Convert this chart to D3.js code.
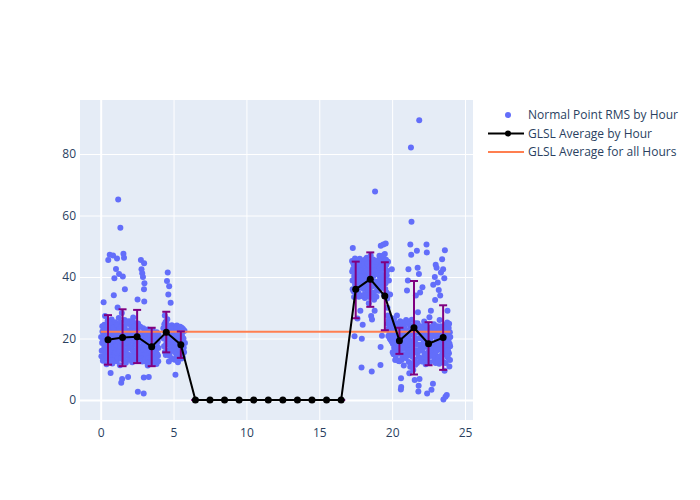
<!DOCTYPE html>
<html><head><meta charset="utf-8">
<script src="https://cdn.jsdelivr.net/npm/d3@7"></script>
<style>body{margin:0;background:#fff;} text{font-family:"Open Sans","Noto Sans",sans-serif;}</style>
</head><body><svg id="c" width="700" height="500"></svg>
<script>
// Hourly averages
const hours = [0.5,1.5,2.5,3.5,4.5,5.5,6.5,7.5,8.5,9.5,10.5,11.5,12.5,13.5,14.5,15.5,16.5,17.5,18.5,19.5,20.5,21.5,22.5,23.5];
const avgRms = [19.6,20.3,20.6,17.3,22.0,18.0,0,0,0,0,0,0,0,0,0,0,0,36.0,39.3,33.8,19.3,23.5,18.3,20.3];
const errLow = [11.5,11.0,12.0,11.0,15.5,13.7,0,0,0,0,0,0,0,0,0,0,0,26.6,30.3,22.7,15.0,8.3,11.3,9.8];
const errHigh = [27.6,29.5,29.3,23.5,28.7,22.3,0,0,0,0,0,0,0,0,0,0,0,45.0,48.0,44.8,23.5,38.7,25.3,30.8];
const overallAvg = 22.2;
const xTicks = [0,5,10,15,20,25];
const yTicks = [0,20,40,60,80];
const legendLabels = ["Normal Point RMS by Hour","GLSL Average by Hour","GLSL Average for all Hours"];
// Normal point RMS samples [hour, rms]
const pts = [
[0.05,14.2],[0.1,18.5],[0.12,22.3],[0.15,12.8],[0.2,31.8],[0.22,16.4],[0.25,24.5],[0.28,20.1],[0.3,27.3],[0.33,13.5],[0.35,19.2],[0.38,23.6],[0.4,11.6],[0.42,17.3],[0.45,21.4],[0.48,25.8],[0.5,15.1],[0.52,45.5],[0.55,19.9],[0.58,12.4],[0.6,23.1],[0.62,47.2],[0.65,16.8],[0.68,8.8],[0.7,21.7],[0.72,14.3],[0.75,26.2],[0.78,18.1],[0.8,11.9],[0.82,24.0],[0.85,47.0],[0.86,20.6],[0.88,15.7],[0.9,34.1],[0.92,22.8],[0.94,39.6],[0.95,13.2],[0.97,17.9],[0.99,25.3],
[1.02,19.4],[1.05,42.6],[1.07,23.8],[1.1,12.6],[1.12,46.0],[1.14,16.5],[1.16,30.1],[1.18,21.2],[1.2,65.2],[1.22,14.1],[1.24,26.7],[1.26,41.0],[1.28,18.3],[1.3,22.9],[1.32,11.3],[1.35,56.0],[1.37,25.1],[1.39,15.4],[1.41,5.6],[1.43,20.2],[1.45,28.3],[1.47,6.8],[1.5,17.1],[1.52,40.2],[1.54,23.4],[1.56,47.6],[1.58,13.0],[1.6,46.3],[1.62,19.7],[1.64,26.0],[1.66,36.0],[1.68,16.0],[1.7,21.6],[1.73,12.1],[1.76,24.7],[1.8,18.8],[1.84,14.9],[1.88,7.5],[1.9,22.2],[1.94,17.6],[1.97,25.6],
[2.02,20.8],[2.05,13.9],[2.08,24.2],[2.1,17.0],[2.13,23.6],[2.16,12.3],[2.2,19.6],[2.23,26.8],[2.26,15.3],[2.3,21.9],[2.33,18.2],[2.36,13.6],[2.4,25.0],[2.43,20.4],[2.46,16.4],[2.5,22.6],[2.53,32.7],[2.55,2.7],[2.57,14.6],[2.6,19.1],[2.63,24.1],[2.66,17.4],[2.7,12.9],[2.73,21.3],[2.76,45.5],[2.78,16.0],[2.8,42.5],[2.82,19.8],[2.85,41.2],[2.87,14.2],[2.9,40.0],[2.92,23.3],[2.95,2.1],[2.97,36.0],[2.98,44.5],[3.0,38.0],[2.99,32.0],[2.96,7.3],[2.94,18.6],
[3.02,15.8],[3.05,20.6],[3.08,12.5],[3.1,17.9],[3.13,22.4],[3.16,14.1],[3.2,19.0],[3.23,11.2],[3.26,16.7],[3.3,7.5],[3.33,21.1],[3.36,13.8],[3.4,18.4],[3.43,15.2],[3.46,20.0],[3.5,12.0],[3.53,17.2],[3.56,22.8],[3.6,14.7],[3.63,19.5],[3.66,16.1],[3.7,13.3],[3.73,18.9],[3.76,21.6],[3.8,15.5],[3.83,11.7],[3.86,17.6],[3.9,20.3],[3.93,14.4],[3.96,16.9],
[4.3,23.3],[4.35,17.5],[4.4,27.5],[4.42,20.2],[4.45,25.4],[4.47,14.6],[4.5,22.0],[4.52,18.7],[4.55,38.7],[4.57,26.3],[4.6,41.5],[4.62,16.2],[4.64,34.3],[4.66,21.3],[4.68,12.5],[4.7,37.0],[4.72,24.0],[4.74,19.3],[4.76,15.6],[4.8,31.6],[4.82,22.7],[4.85,17.8],[4.88,24.3],[4.9,13.4],[4.93,20.6],[4.96,23.6],
[5.0,22.1],[5.03,16.4],[5.06,19.8],[5.08,13.1],[5.1,23.9],[5.13,8.2],[5.15,18.2],[5.18,21.5],[5.2,14.8],[5.23,24.2],[5.26,17.3],[5.3,12.3],[5.33,20.7],[5.36,15.9],[5.4,23.0],[5.43,18.9],[5.46,13.6],[5.5,21.9],[5.53,16.8],[5.56,23.5],[5.6,19.4],[5.63,14.0],[5.66,22.4],[5.7,17.0],
[17.25,45.2],[17.28,38.9],[17.3,49.4],[17.32,42.6],[17.35,35.4],[17.37,44.1],[17.4,40.3],[17.42,20.7],[17.45,46.0],[17.48,37.2],[17.5,43.0],[17.52,34.5],[17.55,41.4],[17.58,45.5],[17.6,38.0],[17.62,26.5],[17.65,42.1],[17.68,36.3],[17.7,44.7],[17.72,33.6],[17.75,39.5],[17.78,45.9],[17.8,41.0],[17.82,29.0],[17.85,36.9],[17.87,43.6],[17.9,10.6],[17.92,19.9],[17.94,38.4],[17.96,34.0],[17.98,24.5],
[18.02,42.4],[18.05,36.1],[18.08,45.3],[18.1,39.4],[18.13,33.2],[18.16,44.0],[18.2,40.7],[18.23,37.5],[18.26,46.3],[18.3,35.0],[18.33,42.9],[18.36,38.6],[18.4,31.5],[18.43,44.8],[18.46,40.1],[18.5,36.6],[18.53,47.0],[18.56,27.3],[18.6,9.3],[18.62,26.2],[18.65,41.6],[18.68,34.1],[18.7,45.7],[18.73,38.0],[18.76,32.6],[18.8,29.0],[18.83,67.8],[18.86,43.3],[18.9,37.1],[18.93,40.9],[18.96,35.6],
[19.02,44.2],[19.05,38.4],[19.08,41.7],[19.1,35.5],[19.13,46.9],[19.16,40.2],[19.2,11.4],[19.21,17.2],[19.22,50.2],[19.25,43.6],[19.28,37.0],[19.3,20.9],[19.33,45.4],[19.36,39.3],[19.4,50.6],[19.43,34.2],[19.46,42.8],[19.5,47.5],[19.53,36.1],[19.56,50.9],[19.6,44.0],[19.63,40.6],[19.66,33.0],[19.7,27.5],[19.72,45.0],[19.75,23.1],[19.78,38.9],[19.8,25.6],[19.83,21.8],[19.86,34.3],[19.9,19.6],[19.93,26.7],[19.96,22.4],[19.98,42.5],
[20.02,24.8],[20.05,18.3],[20.08,21.7],[20.1,14.9],[20.13,26.4],[20.16,19.6],[20.2,23.2],[20.23,16.1],[20.26,13.4],[20.3,22.0],[20.33,27.5],[20.36,17.7],[20.4,20.5],[20.43,15.2],[20.46,24.1],[20.5,12.6],[20.53,19.0],[20.56,22.7],[20.6,3.4],[20.61,7.1],[20.62,4.2],[20.63,16.6],[20.66,25.3],[20.7,14.0],[20.73,21.1],[20.76,18.0],[20.8,11.2],[20.83,23.7],[20.86,16.9],[20.9,20.3],[20.93,13.7],[20.96,26.0],[20.98,17.4],
[21.02,35.6],[21.04,22.3],[21.06,16.3],[21.08,38.9],[21.1,19.8],[21.12,42.5],[21.14,12.4],[21.16,24.6],[21.18,8.7],[21.2,17.7],[21.22,21.4],[21.25,50.6],[21.27,14.6],[21.29,82.1],[21.31,47.2],[21.33,58.0],[21.35,26.1],[21.37,19.2],[21.4,11.8],[21.43,23.0],[21.46,16.0],[21.5,20.7],[21.53,13.1],[21.55,6.5],[21.57,25.0],[21.6,18.4],[21.63,34.0],[21.66,22.1],[21.7,48.5],[21.72,15.3],[21.75,43.0],[21.77,28.5],[21.8,2.8],[21.82,4.6],[21.84,41.0],[21.86,91.0],[21.88,6.8],[21.9,20.1],[21.92,35.0],[21.94,12.8],[21.96,24.0],[21.98,17.0],
[22.02,21.5],[22.05,16.2],[22.08,36.7],[22.1,23.8],[22.13,13.5],[22.16,19.3],[22.2,25.5],[22.23,15.0],[22.26,21.0],[22.3,11.6],[22.33,18.1],[22.36,50.6],[22.38,48.0],[22.4,2.1],[22.42,23.4],[22.45,14.2],[22.5,20.0],[22.53,16.8],[22.56,26.9],[22.6,12.3],[22.63,19.0],[22.66,29.0],[22.7,3.3],[22.72,22.6],[22.75,15.6],[22.8,5.3],[22.82,37.5],[22.84,17.9],[22.87,24.6],[22.9,13.0],[22.93,40.0],[22.95,32.5],[22.97,20.8],[22.99,44.0],
[23.02,18.4],[23.05,43.0],[23.08,23.0],[23.1,14.1],[23.13,38.2],[23.16,20.6],[23.2,35.8],[23.23,11.8],[23.26,26.0],[23.3,34.0],[23.32,17.1],[23.35,41.5],[23.38,22.0],[23.4,13.3],[23.43,45.8],[23.46,19.7],[23.5,42.5],[23.52,0.2],[23.55,15.7],[23.58,39.6],[23.6,9.5],[23.62,48.7],[23.64,24.4],[23.66,1.1],[23.68,12.0],[23.7,21.3],[23.72,16.8],[23.75,1.6],[23.78,25.2],[23.8,29.0],[23.82,13.8],[23.85,19.0],[23.88,23.4],[23.9,15.2],[23.93,10.9],[23.96,22.0],[23.98,17.5]
];
// additional samples in the dense core of each hour
const ptsCore = [
[0.03,20.5],[0.07,16.0],[0.11,24.0],[0.14,19.0],[0.18,13.6],[0.21,21.8],[0.26,17.5],[0.29,14.8],[0.32,22.6],[0.36,16.1],[0.39,20.7],[0.43,13.9],[0.46,18.4],[0.53,22.0],[0.56,15.8],[0.59,20.9],[0.63,13.0],[0.66,24.8],[0.69,18.9],[0.73,22.5],[0.76,16.5],[0.79,12.9],[0.83,19.3],[0.87,23.5],[0.91,17.0],[0.96,21.1],[0.98,14.6],
[1.03,15.5],[1.06,21.0],[1.09,17.8],[1.13,24.4],[1.17,13.6],[1.21,19.1],[1.25,15.9],[1.29,23.2],[1.33,17.4],[1.36,20.8],[1.4,13.4],[1.44,24.0],[1.48,19.0],[1.51,15.0],[1.55,21.6],[1.59,17.9],[1.63,12.8],[1.67,23.1],[1.71,18.6],[1.75,14.4],[1.79,21.9],[1.83,25.5],[1.87,16.7],[1.91,20.0],[1.95,13.2],[1.99,22.5],
[2.01,16.9],[2.04,22.2],[2.07,18.9],[2.11,14.5],[2.14,20.7],[2.18,25.7],[2.21,16.0],[2.25,21.3],[2.28,13.0],[2.32,24.0],[2.35,19.5],[2.38,15.7],[2.42,22.4],[2.45,17.8],[2.48,13.9],[2.52,20.3],[2.56,24.9],[2.59,16.7],[2.62,21.8],[2.65,13.2],[2.69,19.8],[2.72,23.8],[2.75,15.4],[2.79,21.1],[2.83,17.3],[2.86,12.5],[2.89,20.9],[2.93,16.3],
[3.01,18.7],[3.04,13.0],[3.07,22.0],[3.11,15.0],[3.15,20.4],[3.18,16.3],[3.22,22.9],[3.25,13.5],[3.28,19.6],[3.32,15.9],[3.35,12.2],[3.38,21.3],[3.42,17.0],[3.45,13.0],[3.48,22.3],[3.52,15.6],[3.55,19.8],[3.58,12.8],[3.62,21.0],[3.65,17.9],[3.68,11.9],[3.72,15.3],[3.75,20.1],[3.79,13.5],[3.82,18.5],[3.85,22.0],[3.88,14.9],[3.92,19.0],[3.95,12.6],[3.98,21.2],
[4.32,20.0],[4.37,24.6],[4.41,15.6],[4.44,21.5],[4.48,18.0],[4.51,25.0],[4.54,15.0],[4.58,20.9],[4.61,23.0],[4.65,18.2],[4.69,22.3],[4.73,14.4],[4.77,20.0],[4.81,17.2],[4.84,23.2],[4.87,19.6],[4.91,16.0],[4.94,22.0],[4.98,18.5],
[5.02,19.0],[5.05,23.0],[5.09,17.0],[5.12,21.0],[5.16,15.3],[5.19,23.3],[5.22,19.5],[5.25,14.0],[5.28,22.0],[5.32,18.0],[5.35,23.4],[5.38,16.5],[5.42,20.0],[5.45,23.8],[5.48,15.0],[5.52,19.5],[5.55,13.5],[5.58,21.0],[5.62,17.5],[5.65,23.1],[5.68,20.0],[5.72,15.5],[5.75,22.5],[5.78,18.5],
[17.26,41.8],[17.29,36.0],[17.33,44.6],[17.36,39.0],[17.39,33.5],[17.43,42.8],[17.46,37.8],[17.49,45.0],[17.53,40.0],[17.56,35.6],[17.59,43.5],[17.63,39.4],[17.66,45.3],[17.69,34.7],[17.73,41.9],[17.76,37.0],[17.79,43.9],[17.83,40.3],[17.86,33.8],[17.89,42.0],[17.93,45.4],[17.97,39.0],
[18.03,39.0],[18.06,44.6],[18.09,34.2],[18.12,41.6],[18.15,37.3],[18.18,45.8],[18.21,34.4],[18.25,42.0],[18.28,39.0],[18.31,44.3],[18.35,36.0],[18.38,41.3],[18.42,38.0],[18.45,33.5],[18.48,43.5],[18.52,39.8],[18.55,34.8],[18.58,42.5],[18.63,37.0],[18.67,44.0],[18.71,40.3],[18.75,35.0],[18.79,42.2],[18.84,38.5],[18.88,45.0],[18.92,33.6],[18.95,41.0],[18.98,37.9],
[19.03,41.0],[19.07,45.5],[19.11,37.8],[19.15,43.0],[19.18,39.2],[19.24,46.0],[19.27,40.9],[19.31,36.5],[19.35,42.6],[19.38,47.0],[19.42,38.6],[19.45,44.8],[19.48,40.0],[19.52,43.3],[19.55,38.0],[19.58,45.6],[19.62,35.0],[19.65,42.0],[19.68,30.0],[19.71,24.8],[19.74,20.8],[19.77,26.0],[19.81,23.5],[19.84,20.0],[19.88,24.5],[19.92,21.0],[19.95,25.3],[19.97,19.0],
[20.01,21.0],[20.04,15.5],[20.07,19.4],[20.11,23.0],[20.14,17.0],[20.18,21.0],[20.21,13.0],[20.25,25.0],[20.28,18.8],[20.32,15.0],[20.35,21.3],[20.38,24.5],[20.42,17.3],[20.45,12.7],[20.48,21.7],[20.52,16.0],[20.55,25.6],[20.58,19.7],[20.65,13.0],[20.68,22.0],[20.71,17.0],[20.75,24.4],[20.79,19.5],[20.82,15.0],[20.85,21.0],[20.88,25.2],[20.92,18.5],[20.95,14.6],[20.99,22.3],
[21.03,19.0],[21.05,25.5],[21.09,14.5],[21.13,20.9],[21.17,16.0],[21.21,23.0],[21.24,10.8],[21.28,18.0],[21.32,21.7],[21.36,14.2],[21.39,24.0],[21.42,17.4],[21.45,9.8],[21.48,22.5],[21.52,15.7],[21.56,19.6],[21.59,11.5],[21.62,23.6],[21.65,16.2],[21.68,20.0],[21.71,12.0],[21.74,25.0],[21.78,18.0],[21.81,14.0],[21.85,21.9],[21.89,16.0],[21.93,22.5],[21.97,13.5],
[22.01,18.0],[22.04,12.5],[22.07,22.7],[22.11,16.6],[22.14,20.5],[22.18,14.0],[22.22,22.0],[22.25,17.6],[22.28,24.5],[22.32,15.0],[22.35,20.6],[22.39,13.0],[22.44,19.6],[22.48,23.7],[22.52,15.8],[22.55,21.0],[22.58,17.4],[22.62,23.0],[22.65,14.3],[22.68,20.4],[22.74,18.4],[22.78,24.0],[22.83,14.6],[22.86,21.3],[22.89,17.0],[22.92,23.6],[22.96,15.5],[22.98,12.0],
[23.01,21.8],[23.04,16.0],[23.07,19.6],[23.11,24.0],[23.14,17.6],[23.18,13.0],[23.21,22.4],[23.25,16.5],[23.28,20.0],[23.31,14.3],[23.34,24.0],[23.37,18.5],[23.41,21.0],[23.44,15.8],[23.48,23.6],[23.51,17.8],[23.54,12.2],[23.57,21.5],[23.61,18.0],[23.65,14.8],[23.69,22.6],[23.73,19.6],[23.77,14.5],[23.81,21.0],[23.84,16.0],[23.87,19.7],[23.91,24.8],[23.94,18.3],[23.97,13.0],[23.99,20.5]
];
const allPts = pts.concat(ptsCore);

const svg = d3.select("#c");
const L=80,R=473,T=100,B=420;
const x = d3.scaleLinear().domain([-1.42,25.55]).range([L,R]);
const y = d3.scaleLinear().domain([-6.5,97.56]).range([B,T]);

svg.append("rect").attr("x",L).attr("y",T).attr("width",R-L).attr("height",B-T).attr("fill","#E5ECF6");

const xg = svg.append("g").attr("transform",`translate(0,${B})`)
  .call(d3.axisBottom(x).tickValues(xTicks).tickSize(-(B-T)).tickPadding(8));
const yg = svg.append("g").attr("transform",`translate(${L},0)`)
  .call(d3.axisLeft(y).tickValues(yTicks).tickSize(-(R-L)).tickPadding(4));
[xg,yg].forEach(g=>{
  g.select(".domain").remove();
  g.selectAll(".tick line").attr("stroke","#fff").attr("stroke-width",1);
  g.selectAll(".tick text").attr("fill","#2a3f5f").attr("font-size",12);
});
yg.selectAll(".tick").filter(d=>d===0).select("line").attr("stroke-width",2);
xg.selectAll(".tick").filter(d=>d===0).select("line").attr("stroke-width",2);

const plot = svg.append("g");
plot.selectAll("circle.pt").data(allPts).join("circle").attr("class","pt")
  .attr("cx",d=>x(d[0])).attr("cy",d=>y(d[1])).attr("r",3).attr("fill","#636efa");

// overall avg line
plot.append("line").attr("x1",x(0)).attr("x2",x(24))
  .attr("y1",y(overallAvg)).attr("y2",y(overallAvg))
  .attr("stroke","#FF7F50").attr("stroke-width",2);

// error bars
const eb = plot.append("g").attr("stroke","purple").attr("stroke-width",2).attr("fill","none");
hours.forEach((h,i)=>{
  eb.append("line").attr("x1",x(h)).attr("x2",x(h)).attr("y1",y(errLow[i])).attr("y2",y(errHigh[i]));
  eb.append("line").attr("x1",x(h)-4).attr("x2",x(h)+4).attr("y1",y(errLow[i])).attr("y2",y(errLow[i]));
  eb.append("line").attr("x1",x(h)-4).attr("x2",x(h)+4).attr("y1",y(errHigh[i])).attr("y2",y(errHigh[i]));
});

const line = d3.line().x((d,i)=>x(hours[i])).y(d=>y(d));
plot.append("path").datum(avgRms).attr("d",line).attr("fill","none").attr("stroke","#000").attr("stroke-width",2);
plot.selectAll("circle.avg").data(avgRms).join("circle").attr("class","avg")
  .attr("cx",(d,i)=>x(hours[i])).attr("cy",d=>y(d)).attr("r",3.5).attr("fill","#000");

// legend
const lg = svg.append("g").attr("transform","translate(488,115)");
legendLabels.forEach((lab,i)=>{
  const g = lg.append("g").attr("transform",`translate(0,${i*18.5})`);
  if(i===0){ g.append("circle").attr("cx",20).attr("cy",0).attr("r",3).attr("fill","#636efa"); }
  if(i===1){ g.append("line").attr("x1",0).attr("x2",36).attr("y1",0).attr("y2",0).attr("stroke","#000").attr("stroke-width",2);
             g.append("circle").attr("cx",20).attr("cy",0).attr("r",3).attr("fill","#000"); }
  if(i===2){ g.append("line").attr("x1",0).attr("x2",36).attr("y1",0).attr("y2",0).attr("stroke","#FF7F50").attr("stroke-width",2); }
  g.append("text").attr("x",40).attr("y",0).attr("dy","0.35em").attr("font-size",12).attr("fill","#2a3f5f").text(lab);
});
</script></body></html>
